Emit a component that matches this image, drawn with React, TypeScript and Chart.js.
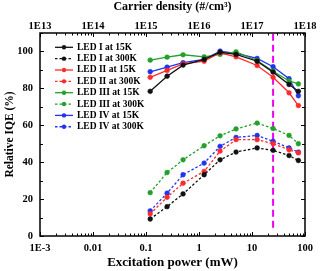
import React, { useEffect, useRef } from 'react';
import { Chart, registerables } from 'chart.js';

Chart.register(...registerables);

// ---- data ----
const powerMW = [0.12, 0.25, 0.5, 1.25, 2.5, 5, 12.5, 25, 50, 75];

const ledI_15K = [78.4, 86.6, 92.6, 95.7, 99.6, 98.4, 94.7, 88.8, 82.1, 78.4];
const ledI_300K = [9.2, 15.9, 22.8, 33.2, 41.3, 45.5, 47.7, 46.4, 43.6, 40.9];
const ledII_15K = [86.0, 89.7, 93.3, 94.7, 99.3, 97.1, 92.4, 86.0, 77.6, 70.7];
const ledII_300K = [12.0, 21.0, 28.6, 35.0, 46.0, 52.2, 52.2, 50.0, 46.7, 45.0];
const ledIII_15K = [95.3, 96.9, 98.2, 97.1, 98.4, 99.8, 95.1, 89.3, 84.0, 82.4];
const ledIII_300K = [23.5, 34.4, 41.3, 48.9, 54.3, 58.0, 61.2, 58.2, 54.5, 50.0];
const ledIV_15K = [89.0, 91.5, 93.9, 95.7, 100.2, 98.9, 96.2, 91.7, 85.2, 76.0];
const ledIV_300K = [13.6, 23.2, 33.2, 39.5, 48.6, 53.4, 54.5, 51.3, 47.7, 45.5];

const seriesNames = [
  'LED I at 15K', 'LED I at 300K',
  'LED II at 15K', 'LED II at 300K',
  'LED III at 15K', 'LED III at 300K',
  'LED IV at 15K', 'LED IV at 300K',
];
const seriesValues = [ledI_15K, ledI_300K, ledII_15K, ledII_300K, ledIII_15K, ledIII_300K, ledIV_15K, ledIV_300K];
const seriesColors = ['#111111', '#111111', '#ff2a2a', '#ff2a2a', '#22a02a', '#22a02a', '#2233ee', '#2233ee'];
const seriesDashed = [false, true, false, true, false, true, false, true];

const xTickValues = [0.001, 0.01, 0.1, 1, 10, 100];
const xTickLabels = ['1E-3', '0.01', '0.1', '1', '10', '100'];
const topTickValues = [1e13, 1e14, 1e15, 1e16, 1e17, 1e18];
const topTickLabels = ['1E13', '1E14', '1E15', '1E16', '1E17', '1E18'];
const yTickValues = [0, 20, 40, 60, 80, 100];

const markerPowerMW = 25;
const markerIqeRange = [4.5, 110];

const FONT = '"Liberation Serif", "Times New Roman", serif';

const framePlugin = {
  id: 'frameTicksLegend',
  afterDatasetsDraw(chart: any) {
    const { ctx, chartArea: a, scales } = chart;
    ctx.save();
    const seg = (x1: number, y1: number, x2: number, y2: number) => {
      ctx.beginPath();
      ctx.moveTo(x1, y1);
      ctx.lineTo(x2, y2);
      ctx.stroke();
    };
    ctx.strokeStyle = '#000';
    ctx.lineWidth = 1;
    // y ticks
    const ys = scales.y;
    for (let v = 0; v <= 110; v += 10) {
      const py = Math.round(ys.getPixelForValue(v)) + 0.5;
      const len = v % 20 === 0 ? 4 : 3;
      seg(a.left, py, a.left + len, py);
      seg(a.right, py, a.right - len, py);
    }
    // bottom x ticks
    const xs = scales.x;
    for (let d = -3; d <= 2; d++) {
      for (let m = 1; m < 10; m++) {
        const v = m * Math.pow(10, d);
        if (v > 100 * 1.0001) break;
        const px = Math.round(xs.getPixelForValue(v)) + 0.5;
        const len = m === 1 ? 4 : 2.5;
        seg(px, a.bottom, px, a.bottom - len);
      }
    }
    // top x ticks
    const xt = scales.x2;
    for (let d = 13; d <= 18; d++) {
      for (let m = 1; m < 10; m++) {
        const v = m * Math.pow(10, d);
        if (v > 1e18 * 1.0001) break;
        const px = Math.round(xt.getPixelForValue(v)) + 0.5;
        const len = m === 1 ? 4 : 2.5;
        seg(px, a.top, px, a.top + len);
      }
    }
    // frame
    ctx.lineWidth = 1.5;
    ctx.strokeRect(a.left, a.top, a.right - a.left, a.bottom - a.top);

    // legend
    const x0 = a.left + 15;
    const x1 = a.left + 33;
    const tx = a.left + 37;
    let yy = a.top + 14.3;
    ctx.font = `bold 9.5px ${FONT}`;
    ctx.textBaseline = 'middle';
    ctx.textAlign = 'left';
    for (let i = 0; i < seriesNames.length; i++) {
      const ds = chart.data.datasets[i];
      ctx.strokeStyle = ds.borderColor;
      ctx.lineWidth = 1.3;
      ctx.setLineDash(ds.borderDash || []);
      seg(x0, yy, x1, yy);
      ctx.setLineDash([]);
      ctx.fillStyle = ds.borderColor;
      ctx.beginPath();
      ctx.arc((x0 + x1) / 2, yy, 2.2, 0, Math.PI * 2);
      ctx.fill();
      ctx.fillStyle = '#000';
      ctx.fillText(seriesNames[i], tx, yy);
      yy += 11.35;
    }
    ctx.restore();
  },
};

export default function App() {
  const ref = useRef<HTMLCanvasElement | null>(null);
  useEffect(() => {
    if (!ref.current) return;
    const datasets: any[] = seriesNames.map((name, i) => ({
      label: name,
      data: powerMW.map((p, j) => ({ x: p, y: seriesValues[i][j] })),
      borderColor: seriesColors[i],
      backgroundColor: seriesColors[i],
      pointBackgroundColor: seriesColors[i],
      pointBorderColor: seriesColors[i],
      pointRadius: 2.4,
      pointBorderWidth: 0.5,
      borderWidth: 1.3,
      borderDash: seriesDashed[i] ? [2.5, 2] : [],
      tension: 0,
      fill: false,
    }));
    datasets.push({
      label: 'marker',
      data: [
        { x: markerPowerMW, y: markerIqeRange[0] },
        { x: markerPowerMW, y: markerIqeRange[1] },
      ],
      borderColor: '#ee00ee',
      borderWidth: 2,
      borderDash: [7, 4],
      pointRadius: 0,
      fill: false,
    });
    const tickFont = { family: FONT, weight: 'bold' as const, size: 10.5 };
    const chart = new Chart(ref.current, {
      type: 'line',
      data: { datasets },
      plugins: [framePlugin],
      options: {
        animation: false,
        responsive: false,
        devicePixelRatio: 1,
        layout: { padding: { left: 0, right: 18, top: 0, bottom: 0 } },
        plugins: { legend: { display: false }, tooltip: { enabled: false } },
        scales: {
          x: {
            type: 'logarithmic',
            position: 'bottom',
            min: 0.001,
            max: 100,
            grid: { display: false, drawTicks: false },
            border: { display: false },
            afterBuildTicks: (s: any) => {
              s.ticks = xTickValues.map((v) => ({ value: v }));
            },
            ticks: {
              autoSkip: false,
              maxRotation: 0,
              padding: 6,
              color: '#000',
              font: tickFont,
              callback: (_v: any, i: number) => xTickLabels[i],
            },
            title: {
              display: true,
              text: 'Excitation power (mW)',
              color: '#000',
              font: { family: FONT, weight: 'bold', size: 13 },
              padding: { top: 0, bottom: 1 },
            },
            afterFit: (s: any) => {
              s.height = 35;
            },
          },
          x2: {
            type: 'logarithmic',
            position: 'top',
            min: 1e13,
            max: 1e18,
            grid: { display: false, drawTicks: false },
            border: { display: false },
            afterBuildTicks: (s: any) => {
              s.ticks = topTickValues.map((v) => ({ value: v }));
            },
            ticks: {
              autoSkip: false,
              maxRotation: 0,
              padding: 0,
              color: '#000',
              font: tickFont,
              callback: (_v: any, i: number) => topTickLabels[i],
            },
            title: {
              display: true,
              text: 'Carrier density (#/cm³)',
              color: '#000',
              font: { family: FONT, weight: 'bold', size: 12 },
              padding: { top: 0, bottom: 0 },
            },
            afterFit: (s: any) => {
              s.height = 33;
            },
          },
          y: {
            type: 'linear',
            min: 0,
            max: 110,
            grid: { display: false, drawTicks: false },
            border: { display: false },
            afterBuildTicks: (s: any) => {
              s.ticks = yTickValues.map((v) => ({ value: v }));
            },
            ticks: {
              autoSkip: false,
              padding: 7,
              color: '#000',
              font: tickFont,
            },
            title: {
              display: true,
              text: 'Relative IQE (%)',
              color: '#000',
              font: { family: FONT, weight: 'bold', size: 11.5 },
              padding: { top: 3, bottom: 0 },
            },
            afterFit: (s: any) => {
              s.width = 40;
            },
          },
        },
      } as any,
    });
    return () => chart.destroy();
  }, []);
  return (
    <div style={{ position: 'fixed', left: 0, top: 0, width: 323, height: 271, background: '#fff' }}>
      <canvas ref={ref} width={323} height={271} style={{ width: 323, height: 271 }} />
    </div>
  );
}
